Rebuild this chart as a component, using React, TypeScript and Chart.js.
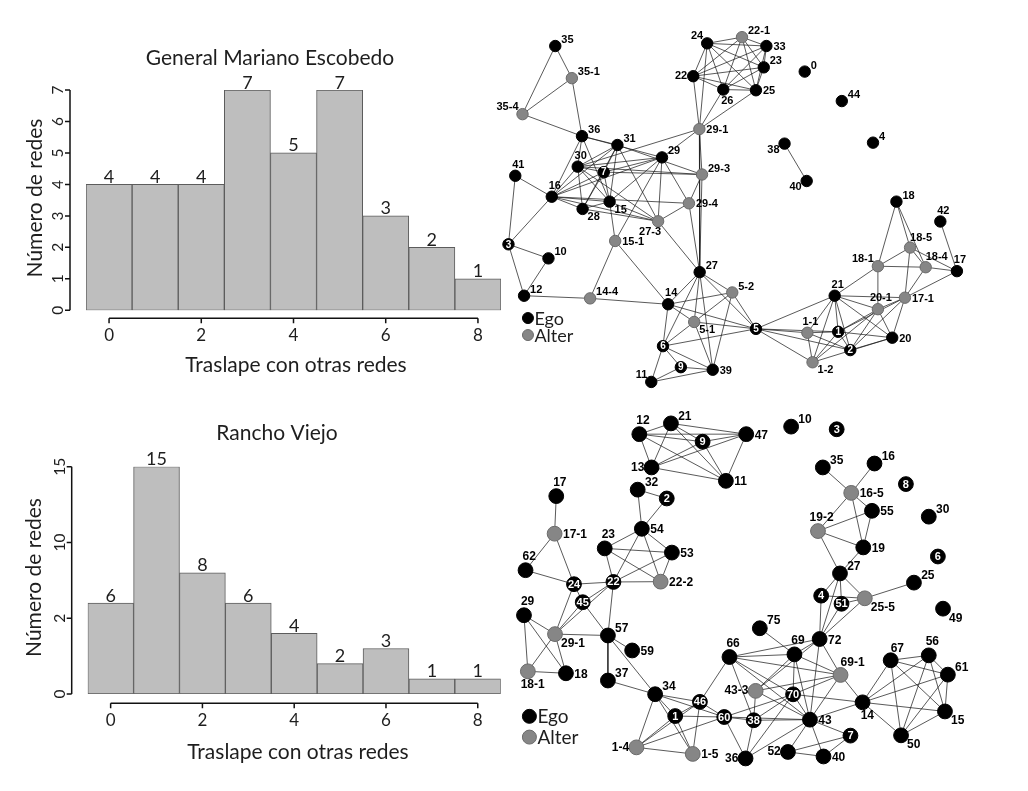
import React, { useEffect, useRef } from "react";
import { Chart, registerables } from "chart.js";

Chart.register(...registerables);

// ---------------- Histogram data ----------------
const overlapCategories = ["0", "1", "2", "3", "4", "5", "6", "7", "8"];
const escobedoCounts = [4, 4, 4, 7, 5, 7, 3, 2, 1];
const ranchoCounts = [6, 15, 8, 6, 4, 2, 3, 1, 1];
const xTickValues = [0, 2, 4, 6, 8];
const xTickLabels = ["0", "2", "4", "6", "8"];
const escobedoYTickValues = [0, 1, 2, 3, 4, 5, 6, 7];
const escobedoYTickLabels = ["0", "1", "2", "3", "4", "5", "6", "7"];
const ranchoYTickValues = [0, 5, 10, 15];
const ranchoYTickLabels = ["0", "2", "10", "15"];
const escobedoTitle = "General Mariano Escobedo";
const ranchoTitle = "Rancho Viejo";
const xAxisTitle = "Traslape con otras redes";
const yAxisTitle = "Número de redes";
const legendLabels = ["Ego", "Alter"];

// ---------------- Network data ----------------
// [id, layout x, layout y, kind]  kind: e = ego, a = alter, i = ego labelled inside
type NodeRow = [string, number, number, "e" | "a" | "i"];

const escobedoNodes: NodeRow[] = [
  ["35", 550.3, 40, "e"], ["35-1", 567.3, 72.7, "a"], ["35-4", 516.7, 109.3, "a"],
  ["36", 577.7, 131.7, "e"], ["31", 614, 140.7, "e"], ["29", 659.7, 153.3, "e"],
  ["30", 573.3, 162.7, "e"], ["7", 600, 168.3, "i"], ["41", 509.3, 172, "e"],
  ["16", 546.7, 193.3, "e"], ["28", 578.3, 205.7, "e"], ["15", 606, 198.3, "e"],
  ["29-1", 698, 124.5, "a"], ["29-3", 700.7, 170.7, "a"], ["29-4", 687.3, 200, "a"],
  ["24", 706, 37.3, "e"], ["22", 691.7, 70.7, "e"], ["26", 722.5, 84.3, "e"],
  ["22-1", 741.7, 31, "a"], ["33", 766.7, 40, "e"], ["23", 764, 61.7, "e"],
  ["25", 756, 85, "e"], ["27-3", 655.7, 218.3, "a"], ["15-1", 611.7, 238.3, "a"],
  ["3", 502.3, 241.7, "i"], ["10", 543.3, 256, "e"], ["27", 698.3, 270, "e"],
  ["12", 518.3, 294, "e"], ["14-4", 586, 296.7, "a"], ["5-2", 731.7, 290.7, "a"],
  ["14", 666, 302.7, "e"], ["5-1", 692.7, 320.7, "a"], ["6", 660.7, 345.3, "i"],
  ["9", 679, 366.7, "i"], ["39", 711.7, 369.3, "e"], ["11", 648.7, 381.7, "e"],
  ["0", 806, 66, "e"], ["44", 844, 96, "e"], ["4", 876, 138.3, "e"],
  ["38", 785.3, 139.3, "e"], ["40", 808, 177.3, "e"], ["18", 900, 198.3, "e"],
  ["42", 945, 218.5, "e"], ["18-5", 914, 245, "a"], ["18-1", 881, 264, "a"],
  ["18-4", 930, 265, "a"], ["17", 962, 269, "e"], ["21", 836.7, 294, "e"],
  ["17-1", 908.7, 296, "a"], ["20-1", 881, 307.7, "a"], ["5", 756, 327.7, "i"],
  ["1-1", 808.7, 331.7, "a"], ["1", 840.3, 330.7, "i"], ["20", 895.7, 336.7, "e"],
  ["2", 852.7, 349.3, "i"], ["1-2", 814, 361.7, "a"],
];

const escobedoClique = ["24", "22-1", "33", "23", "25", "26", "22"];
const escobedoEdges: [string, string][] = [
  ["35", "35-1"], ["35", "35-4"], ["35-1", "35-4"], ["35-1", "36"], ["35-4", "36"],
  ["36", "31"], ["36", "16"], ["36", "30"], ["36", "15"], ["36", "29"],
  ["31", "29-3"], ["31", "16"], ["31", "30"], ["31", "7"], ["31", "28"], ["31", "15"], ["31", "27-3"],
  ["29", "29-1"], ["29", "16"], ["29", "30"], ["29", "7"], ["29", "27-3"], ["29", "15"], ["29", "29-4"], ["29", "15-1"],
  ["30", "16"], ["30", "28"], ["30", "7"], ["30", "15"], ["30", "27-3"], ["30", "29-3"], ["30", "29-1"],
  ["16", "41"], ["16", "3"], ["16", "7"], ["16", "28"], ["16", "15"], ["16", "27-3"], ["16", "29-4"],
  ["7", "15"], ["7", "28"], ["7", "29-3"],
  ["15", "15-1"], ["15", "27-3"], ["15", "28"], ["28", "27-3"],
  ["29-1", "22"], ["29-1", "24"], ["29-1", "26"], ["29-1", "25"], ["29-1", "29-3"], ["29-1", "27"],
  ["29-3", "29-4"], ["29-3", "27"], ["29-4", "27"], ["29-4", "27-3"], ["27-3", "27"],
  ["15-1", "14-4"], ["15-1", "14"],
  ["41", "3"], ["3", "10"], ["3", "12"], ["10", "12"], ["12", "14-4"], ["14-4", "14"],
  ["14", "27"], ["14", "5-2"], ["14", "5-1"], ["14", "6"], ["14", "5"],
  ["27", "6"], ["27", "5-1"], ["27", "5-2"], ["27", "5"], ["27", "39"],
  ["5-1", "6"], ["5-1", "39"], ["5-1", "5-2"], ["5-1", "5"],
  ["5-2", "5"], ["5-2", "39"],
  ["6", "5"], ["6", "9"], ["6", "39"], ["6", "11"],
  ["9", "11"], ["9", "39"], ["11", "39"],
  ["5", "1-1"], ["5", "1"], ["5", "2"], ["5", "1-2"], ["5", "21"],
  ["21", "18-1"], ["21", "17-1"], ["21", "20-1"], ["21", "1-1"], ["21", "1"], ["21", "2"], ["21", "1-2"], ["21", "20"],
  ["1-1", "1"], ["1-1", "2"], ["1-1", "1-2"],
  ["1", "20-1"], ["1", "17-1"], ["1", "2"], ["1", "1-2"], ["1", "20"],
  ["2", "20"], ["2", "20-1"], ["2", "17-1"], ["1-2", "20-1"], ["1-2", "20"],
  ["20-1", "17-1"], ["20-1", "18-1"], ["20-1", "20"],
  ["17-1", "18-5"], ["17-1", "18-4"], ["17-1", "17"], ["17-1", "20"],
  ["18-1", "18-5"], ["18-1", "18-4"], ["18-1", "18"],
  ["18", "18-5"], ["18", "18-4"], ["18-5", "18-4"], ["18-5", "17"], ["18-4", "17"], ["42", "17"],
  ["38", "40"],
];

const escobedoLabelSide: Record<string, string> = {
  "35": "ne", "35-1": "ne", "35-4": "nw", "36": "ne", "31": "ne", "29": "ne", "30": "n",
  "41": "n", "16": "n", "28": "se", "15": "se", "29-1": "e", "29-3": "ne", "29-4": "e",
  "24": "nw", "22": "w", "26": "s", "22-1": "ne", "33": "e", "23": "ne", "25": "e",
  "27-3": "sw2", "15-1": "e", "10": "ne", "27": "ne", "12": "ne", "14-4": "ne", "5-2": "ne",
  "14": "n", "5-1": "se", "39": "e", "11": "nw", "0": "ne", "44": "ne", "4": "ne",
  "38": "sw", "40": "sw", "18": "ne", "42": "n", "18-5": "nne", "18-1": "nw", "18-4": "nne",
  "17": "n", "21": "n", "17-1": "e", "20-1": "n", "1-1": "n", "20": "e", "1-2": "se",
};

const ranchoNodes: NodeRow[] = [
  ["12", 635.7, 435, "e"], ["21", 668.3, 424, "e"], ["9", 701, 442.7, "i"],
  ["47", 746, 435, "e"], ["13", 648.3, 469, "e"], ["11", 725, 482.7, "e"],
  ["32", 634, 491.7, "e"], ["2", 664, 500.7, "i"], ["17", 550, 498.3, "e"],
  ["54", 638.3, 531.7, "e"], ["17-1", 548.3, 536.7, "a"], ["23", 600, 551.7, "e"],
  ["53", 669.3, 556, "e"], ["62", 518.3, 574, "e"], ["24", 568.3, 588.3, "i"],
  ["22", 609, 586, "i"], ["22-2", 657.7, 585.7, "a"], ["45", 577.3, 606.7, "i"],
  ["29", 516.7, 620, "e"], ["29-1", 548.7, 639.3, "a"], ["57", 603.3, 640.7, "e"],
  ["59", 628.3, 656, "e"], ["18-1", 520.7, 677.3, "a"], ["18", 560, 679.3, "e"],
  ["37", 603.3, 686.7, "e"], ["66", 728.7, 662.7, "e"], ["34", 652, 700.7, "e"],
  ["43-3", 755.7, 697.3, "a"], ["46", 698.2, 708.5, "i"], ["1", 672.7, 723, "i"],
  ["60", 723.3, 724, "i"], ["38", 753.7, 727.3, "i"], ["1-4", 632.7, 755, "a"],
  ["1-5", 690.8, 761.7, "a"], ["36", 745.3, 766.3, "e"], ["75", 760, 633.3, "e"],
  ["69", 795.7, 660, "e"], ["72", 821.7, 644.3, "e"], ["69-1", 843.3, 681, "a"],
  ["70", 794.3, 700.8, "i"], ["43", 811.7, 726.7, "e"], ["52", 789, 759.7, "e"],
  ["40", 825.7, 764.3, "e"], ["7", 853.5, 743, "i"], ["10", 792.3, 427.3, "e"],
  ["3", 839.3, 430, "i"], ["35", 825, 469, "e"], ["16", 878.3, 465, "e"],
  ["8", 910.7, 486, "i"], ["16-5", 854.3, 495, "a"], ["55", 875.7, 513.3, "e"],
  ["30", 934.3, 519.3, "e"], ["19-2", 820, 534, "a"], ["19", 866.7, 550.7, "e"],
  ["6", 943.7, 560, "i"], ["27", 842.7, 577.3, "e"], ["25", 919, 586.7, "e"],
  ["4", 823.3, 600, "i"], ["51", 844.3, 608.3, "i"], ["25-5", 868.3, 602.7, "a"],
  ["49", 949, 613.3, "e"], ["67", 895, 666, "e"], ["56", 934.3, 661, "e"],
  ["61", 954, 680.7, "e"], ["14", 866, 709, "e"], ["15", 951, 718.3, "e"],
  ["50", 905.7, 742.7, "e"],
];

const ranchoClique = ["12", "21", "9", "47", "13", "11"];
const ranchoEdges: [string, string][] = [
  ["32", "2"], ["32", "54"], ["2", "54"],
  ["54", "23"], ["54", "53"], ["54", "22"], ["54", "22-2"],
  ["23", "53"], ["23", "22"], ["23", "22-2"], ["53", "22"], ["53", "22-2"],
  ["22", "22-2"], ["22", "24"], ["22", "45"], ["22", "29-1"], ["22", "57"],
  ["17", "17-1"], ["17-1", "62"], ["17-1", "24"], ["62", "24"],
  ["24", "45"], ["24", "29-1"], ["45", "29-1"], ["45", "57"],
  ["29", "29-1"], ["29", "18-1"], ["29", "18"],
  ["29-1", "18-1"], ["29-1", "18"], ["29-1", "57"], ["18-1", "18"],
  ["57", "37"], ["57", "34"], ["57", "59"], ["37", "34"],
  ["34", "1-4"], ["34", "1"], ["34", "46"], ["34", "60"], ["34", "1-5"],
  ["1-4", "1"], ["1-4", "46"], ["1-4", "1-5"], ["1-4", "60"],
  ["1", "46"], ["1", "60"], ["1", "1-5"],
  ["46", "60"], ["46", "66"], ["46", "1-5"],
  ["60", "38"], ["60", "36"], ["60", "43"], ["60", "70"],
  ["66", "69"], ["66", "72"], ["66", "69-1"], ["66", "43"], ["66", "38"], ["66", "70"],
  ["75", "69"],
  ["69", "72"], ["69", "43-3"], ["69", "70"], ["69", "43"], ["69", "69-1"],
  ["72", "43-3"], ["72", "4"], ["72", "51"], ["72", "25-5"], ["72", "27"], ["72", "43"], ["72", "69-1"],
  ["43-3", "69-1"], ["43-3", "38"], ["43-3", "43"],
  ["70", "43"], ["70", "69-1"], ["70", "36"], ["70", "38"],
  ["38", "43"], ["38", "36"], ["36", "43"],
  ["43", "52"], ["43", "40"], ["43", "7"], ["43", "14"], ["43", "69-1"],
  ["7", "52"], ["7", "40"], ["52", "40"],
  ["69-1", "14"],
  ["14", "67"], ["14", "56"], ["14", "61"], ["14", "15"], ["14", "50"], ["14", "70"],
  ["67", "56"], ["67", "61"], ["67", "15"], ["67", "50"],
  ["56", "61"], ["56", "15"], ["56", "50"], ["61", "15"], ["61", "50"], ["15", "50"],
  ["27", "4"], ["27", "51"], ["27", "25-5"], ["27", "19"], ["27", "19-2"],
  ["25", "25-5"], ["4", "25-5"], ["51", "25-5"],
  ["19-2", "16-5"], ["19-2", "55"], ["19-2", "19"],
  ["16-5", "35"], ["16-5", "16"], ["16-5", "55"], ["16-5", "19"], ["55", "19"],
];

const ranchoLabelSide: Record<string, string> = {
  "12": "n", "21": "ne", "47": "e", "13": "w", "11": "e", "32": "ne", "17": "n", "54": "e",
  "17-1": "e", "23": "n", "53": "e", "62": "n", "22-2": "e", "29": "n", "29-1": "se",
  "57": "ne", "59": "e", "18-1": "s", "18": "e", "37": "ne", "66": "n", "34": "ne",
  "43-3": "w", "1-4": "w", "1-5": "e", "36": "w", "75": "ne", "69": "n", "72": "e",
  "69-1": "nne", "43": "e", "52": "w", "40": "e", "10": "ne", "35": "ne", "16": "ne",
  "16-5": "e", "55": "e", "30": "ne", "19-2": "n", "19": "e", "27": "ne", "25": "ne",
  "25-5": "se", "49": "se", "67": "nne", "56": "n", "61": "ne", "14": "s", "15": "se", "50": "se",
};

// ---------------- Styling ----------------
const SANS = "Lato, 'Open Sans', 'DejaVu Sans', sans-serif";
const LABEL_FONT = "'Liberation Sans', Arial, sans-serif";
const TEXT = "#1e1e1e";
const BAR_FILL = "#bebebe";
const BAR_EDGE = "#5c5c5c";
const EGO = "#000000";
const ALTER = "#868686";

const LABEL_OFFSETS: Record<string, { dx: number; dy: number; align: CanvasTextAlign }> = {
  ne: { dx: 6, dy: -6, align: "left" },
  nne: { dx: 0, dy: -10, align: "left" },
  e: { dx: 7, dy: 1, align: "left" },
  n: { dx: 3, dy: -11, align: "center" },
  nw: { dx: -4, dy: -7, align: "right" },
  w: { dx: -6, dy: 0, align: "right" },
  se: { dx: 5, dy: 8, align: "left" },
  s: { dx: 4, dy: 11, align: "center" },
  sw: { dx: -5, dy: 6, align: "right" },
  sw2: { dx: 3, dy: 11, align: "right" },
};

type HistSpec = {
  counts: number[];
  yMax: number;
  yTicks: number[];
  yTickLabels: string[];
  title: string;
  padding: { left: number; right: number; top: number; bottom: number };
  titlePos: [number, number];
  xTitlePos: [number, number];
  yTitlePos: [number, number];
  xAxisGap: number;
};

function histConfig(spec: HistSpec): any {
  const plugin = {
    id: "rStyle",
    afterDraw(chart: any) {
      const { ctx, chartArea: ca, scales } = chart;
      const xs = scales.x;
      const ys = scales.y;
      ctx.save();
      // value labels
      const meta = chart.getDatasetMeta(0);
      ctx.fillStyle = TEXT;
      ctx.font = `400 18px ${SANS}`;
      ctx.textAlign = "center";
      ctx.textBaseline = "alphabetic";
      meta.data.forEach((el: any, i: number) => {
        ctx.fillText(String(spec.counts[i]), el.x, el.y - 1.5);
      });
      // y axis
      ctx.strokeStyle = "#111";
      ctx.lineWidth = 1.5;
      const ax = ca.left - 16;
      ctx.beginPath();
      ctx.moveTo(ax, ys.getPixelForValue(spec.yTicks[0]));
      ctx.lineTo(ax, ys.getPixelForValue(spec.yTicks[spec.yTicks.length - 1]));
      spec.yTicks.forEach((v) => {
        const py = ys.getPixelForValue(v);
        ctx.moveTo(ax, py);
        ctx.lineTo(ax - 5, py);
      });
      // x axis
      const ay = ca.bottom + spec.xAxisGap;
      ctx.moveTo(xs.getPixelForValue(xTickValues[0]), ay);
      ctx.lineTo(xs.getPixelForValue(xTickValues[xTickValues.length - 1]), ay);
      xTickValues.forEach((v) => {
        const px = xs.getPixelForValue(v);
        ctx.moveTo(px, ay);
        ctx.lineTo(px, ay + 5);
      });
      ctx.stroke();
      // tick labels
      ctx.font = `400 17px ${SANS}`;
      ctx.textBaseline = "middle";
      ctx.textAlign = "center";
      xTickValues.forEach((v, i) => {
        ctx.fillText(xTickLabels[i], xs.getPixelForValue(v), ay + 17);
      });
      ctx.font = `400 15.5px ${SANS}`;
      spec.yTicks.forEach((v, i) => {
        ctx.save();
        ctx.translate(ax - 12, ys.getPixelForValue(v));
        ctx.rotate(-Math.PI / 2);
        ctx.fillText(spec.yTickLabels[i], 0, 0);
        ctx.restore();
      });
      // titles
      ctx.font = `400 21px ${SANS}`;
      ctx.fillText(spec.title, spec.titlePos[0], spec.titlePos[1]);
      ctx.font = `400 21px ${SANS}`;
      ctx.fillText(xAxisTitle, spec.xTitlePos[0], spec.xTitlePos[1]);
      ctx.save();
      ctx.translate(spec.yTitlePos[0], spec.yTitlePos[1]);
      ctx.rotate(-Math.PI / 2);
      ctx.fillText(yAxisTitle, 0, 0);
      ctx.restore();
      ctx.restore();
    },
  };
  return {
    type: "bar",
    data: {
      labels: overlapCategories,
      datasets: [
        {
          data: spec.counts,
          backgroundColor: BAR_FILL,
          borderColor: BAR_EDGE,
          borderWidth: 1,
          borderSkipped: false,
          barPercentage: 1,
          categoryPercentage: 1,
        },
      ],
    },
    options: {
      animation: false,
      responsive: false,
      events: [],
      layout: { padding: spec.padding },
      scales: {
        x: { display: false },
        y: { display: false, min: 0, max: spec.yMax },
      },
      plugins: { legend: { display: false }, tooltip: { enabled: false } },
    },
    plugins: [plugin],
  };
}

type NetSpec = {
  nodes: NodeRow[];
  edges: [string, string][];
  clique: string[];
  labelSide: Record<string, string>;
  radius: number;
  labelScale: number;
  labelFont: number;
  innerFont1: number;
  innerFont2: number;
  legendX: number;
  legendY: [number, number];
  legendR: number;
  legendFont: number;
};

function netConfig(spec: NetSpec): any {
  const byId = new Map(spec.nodes.map((n) => [n[0], n] as [string, NodeRow]));
  const allEdges: [string, string][] = [...spec.edges];
  for (let i = 0; i < spec.clique.length; i++)
    for (let j = i + 1; j < spec.clique.length; j++) allEdges.push([spec.clique[i], spec.clique[j]]);
  const edgeData: any[] = [];
  for (const [a, b] of allEdges) {
    const A = byId.get(a);
    const B = byId.get(b);
    if (!A || !B) continue;
    edgeData.push({ x: A[1], y: A[2] }, { x: B[1], y: B[2] }, { x: null, y: null });
  }
  const egoData = spec.nodes.filter((n) => n[3] !== "a").map((n) => ({ x: n[1], y: n[2] }));
  const alterData = spec.nodes.filter((n) => n[3] === "a").map((n) => ({ x: n[1], y: n[2] }));

  const plugin = {
    id: "netLabels",
    afterDatasetsDraw(chart: any) {
      const { ctx, scales } = chart;
      const xs = scales.x;
      const ys = scales.y;
      ctx.save();
      ctx.textBaseline = "middle";
      for (const [id, x, y, kind] of spec.nodes) {
        const px = xs.getPixelForValue(x);
        const py = ys.getPixelForValue(y);
        if (kind === "i") {
          ctx.fillStyle = "#fff";
          ctx.font = `bold ${id.length > 1 ? spec.innerFont2 : spec.innerFont1}px ${LABEL_FONT}`;
          ctx.textAlign = "center";
          ctx.fillText(id, px, py + 0.5);
          continue;
        }
        const off = LABEL_OFFSETS[spec.labelSide[id] || "ne"];
        ctx.fillStyle = "#000";
        ctx.font = `bold ${spec.labelFont}px ${LABEL_FONT}`;
        ctx.textAlign = off.align;
        ctx.fillText(id, px + off.dx * spec.labelScale, py + off.dy * spec.labelScale);
      }
      // legend
      const lx = xs.getPixelForValue(spec.legendX);
      [EGO, ALTER].forEach((c, i) => {
        const ly = ys.getPixelForValue(spec.legendY[i]);
        ctx.beginPath();
        ctx.arc(lx, ly, spec.legendR, 0, Math.PI * 2);
        ctx.fillStyle = c;
        ctx.fill();
        ctx.lineWidth = 1;
        ctx.strokeStyle = i === 0 ? EGO : "#6a6a6a";
        ctx.stroke();
        ctx.fillStyle = TEXT;
        ctx.font = `400 ${spec.legendFont}px ${SANS}`;
        ctx.textAlign = "left";
        ctx.fillText(legendLabels[i], lx + spec.legendR + 1, ly + 1);
      });
      ctx.restore();
    },
  };

  return {
    type: "scatter",
    data: {
      datasets: [
        {
          type: "scatter",
          data: egoData,
          backgroundColor: EGO,
          borderColor: EGO,
          borderWidth: 1,
          pointRadius: spec.radius,
          clip: false,
          order: 1,
        },
        {
          type: "scatter",
          data: alterData,
          backgroundColor: ALTER,
          borderColor: "#6a6a6a",
          borderWidth: 1,
          pointRadius: spec.radius,
          clip: false,
          order: 2,
        },
        {
          type: "line",
          data: edgeData,
          borderColor: "rgba(25,25,25,0.9)",
          borderWidth: 0.8,
          pointRadius: 0,
          spanGaps: false,
          tension: 0,
          fill: false,
          clip: false,
          order: 3,
        },
      ],
    },
    options: {
      animation: false,
      responsive: false,
      events: [],
      layout: { padding: 0 },
      scales: {
        x: { type: "linear", display: false, min: 480, max: 1028 },
        y: { type: "linear", display: false, min: 0, max: 791, reverse: true },
      },
      plugins: { legend: { display: false }, tooltip: { enabled: false } },
    },
    plugins: [plugin],
  };
}

function ChartCanvas(props: { left: number; top: number; width: number; height: number; make: () => any }) {
  const ref = useRef<HTMLCanvasElement>(null);
  useEffect(() => {
    const chart = new Chart(ref.current as HTMLCanvasElement, props.make());
    return () => chart.destroy();
  }, []);
  return (
    <canvas
      ref={ref}
      width={props.width}
      height={props.height}
      style={{ position: "absolute", left: props.left, top: props.top, width: props.width, height: props.height }}
    />
  );
}

export default function App() {
  return (
    <div style={{ position: "absolute", left: 0, top: 0, width: 1028, height: 791, background: "#fff", overflow: "hidden" }}>
      <ChartCanvas
        left={480}
        top={0}
        width={548}
        height={791}
        make={() =>
          netConfig({
            nodes: escobedoNodes,
            edges: escobedoEdges,
            clique: escobedoClique,
            labelSide: escobedoLabelSide,
            radius: 5.7,
            labelScale: 1,
            labelFont: 11,
            innerFont1: 10,
            innerFont2: 9,
            legendX: 522.3,
            legendY: [316.7, 334],
            legendR: 5.5,
            legendFont: 18,
          })
        }
      />
      <ChartCanvas
        left={480}
        top={0}
        width={548}
        height={791}
        make={() =>
          netConfig({
            nodes: ranchoNodes,
            edges: ranchoEdges,
            clique: ranchoClique,
            labelSide: ranchoLabelSide,
            radius: 7.4,
            labelScale: 1.2,
            labelFont: 12,
            innerFont1: 11,
            innerFont2: 11,
            legendX: 522.3,
            legendY: [723.3, 744.5],
            legendR: 7,
            legendFont: 19,
          })
        }
      />
      <ChartCanvas
        left={0}
        top={0}
        width={520}
        height={400}
        make={() =>
          histConfig({
            counts: escobedoCounts,
            yMax: 7,
            yTicks: escobedoYTickValues,
            yTickLabels: escobedoYTickLabels,
            title: escobedoTitle,
            padding: { left: 86, right: 19, top: 90, bottom: 89.7 },
            titlePos: [270, 58],
            xTitlePos: [296, 365],
            yTitlePos: [35, 198],
            xAxisGap: 8,
          })
        }
      />
      <ChartCanvas
        left={0}
        top={400}
        width={520}
        height={391}
        make={() =>
          histConfig({
            counts: ranchoCounts,
            yMax: 15,
            yTicks: ranchoYTickValues,
            yTickLabels: ranchoYTickLabels,
            title: ranchoTitle,
            padding: { left: 87.7, right: 19.3, top: 66.7, bottom: 97 },
            titlePos: [277, 33],
            xTitlePos: [298, 352],
            yTitlePos: [34, 177.5],
            xAxisGap: 9.3,
          })
        }
      />
    </div>
  );
}
